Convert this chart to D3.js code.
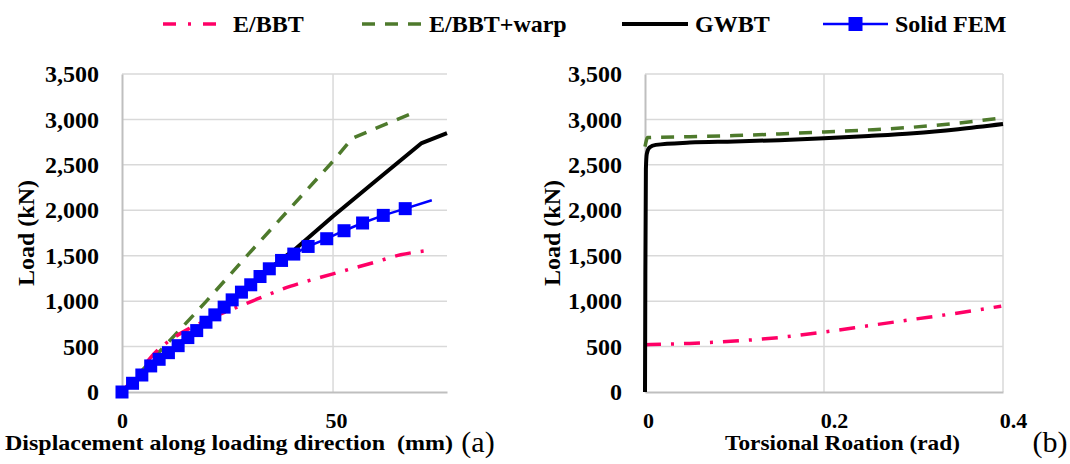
<!DOCTYPE html>
<html lang="en">
  <head>
    <meta charset="UTF-8" />
    <title>Load curves</title>
    <style>
      body { margin: 0; background: #fff; }
      svg { display: block; }
    </style>
  </head>
  <body>
    <svg width="1070" height="464"></svg>

    <script src="https://d3js.org/d3.v7.min.js"></script>
    <script>
      // ---- data: (a) load vs displacement (mm, kN)
      const dispEbbt = [0, 4, 8, 12, 16, 20, 25, 30, 40, 50, 60, 66, 72];
      const loadEbbt = [0, 220, 440, 590, 700, 790, 890, 985, 1165, 1300, 1430, 1510, 1555];

      const dispWarp = [0, 10, 20, 30, 40, 50, 54.5, 60, 65, 70];
      const loadWarp = [0, 500, 1000, 1520, 2030, 2540, 2790, 2900, 2995, 3090];

      const dispGwbt = [0, 10, 20, 30, 38, 41, 50, 60, 71, 77];
      const loadGwbt = [0, 400, 770, 1170, 1470, 1570, 1935, 2320, 2740, 2850];

      const dispFem = [0, 2.5, 4.7, 6.8, 8.8, 11, 13.3, 15.6, 17.7, 19.9, 22, 24.2, 26.1,
        28.3, 30.5, 32.7, 34.9, 37.8, 40.7, 44.1, 48.5, 52.6, 57, 61.9, 67.1, 73.4];
      const loadFem = [0, 96, 187, 287, 360, 433, 510, 599, 676, 768, 849, 934, 1014,
        1099, 1180, 1271, 1356, 1448, 1518, 1602, 1687, 1775, 1860, 1944, 2018, 2110];

      // ---- data: (b) load vs torsional rotation (rad, kN)
      const rotEbbt = [0, 0.05, 0.1, 0.15, 0.2, 0.25, 0.3, 0.35, 0.398];
      const torEbbt = [520, 535, 560, 600, 660, 730, 800, 870, 945];

      const rotWarp = [0, 0.003, 0.05, 0.1, 0.15, 0.2, 0.25, 0.3, 0.35, 0.398];
      const torWarp = [2700, 2800, 2810, 2822, 2840, 2862, 2885, 2915, 2960, 3015];

      const rotGwbt = [0, 0.0004, 0.001, 0.002, 0.005, 0.012, 0.05, 0.1, 0.15, 0.2, 0.25, 0.3, 0.35, 0.4];
      const torGwbt = [0, 1300, 2450, 2620, 2690, 2720, 2745, 2757, 2772, 2793, 2818, 2848, 2893, 2950];

      const loadTicks = [0, 500, 1000, 1500, 2000, 2500, 3000, 3500];
      const dispTicks = [0, 50];
      const rotTicks = [0, 0.2, 0.4];

      const seriesNames = ["E/BBT", "E/BBT+warp", "GWBT", "Solid FEM"];

      // ---- styles
      const styles = {
        "E/BBT": { color: "#ff0066", width: 3.5, dash: "16,10,3,10" },
        "E/BBT+warp": { color: "#4e7a2c", width: 3.5, dash: "13,10" },
        GWBT: { color: "#000000", width: 4, dash: null },
        "Solid FEM": { color: "#0000ff", width: 2.5, dash: null },
      };

      const svg = d3.select("svg");
      const plotTop = 74, plotBottom = 392;

      const yScale = d3.scaleLinear().domain([0, 3500]).range([plotBottom, plotTop]);

      function drawPanel(xScale, xTicks, xFormat, gridX) {
        const g = svg.append("g");
        const left = xScale.range()[0], right = xScale.range()[1];

        // horizontal grid
        g.append("g")
          .selectAll("line")
          .data(loadTicks.slice(1))
          .join("line")
          .attr("x1", left).attr("x2", right)
          .attr("y1", (d) => yScale(d)).attr("y2", (d) => yScale(d))
          .attr("stroke", "#d9d9d9").attr("stroke-width", 1.5);

        // vertical grid
        g.append("g")
          .selectAll("line")
          .data(gridX)
          .join("line")
          .attr("x1", (d) => xScale(d)).attr("x2", (d) => xScale(d))
          .attr("y1", plotTop).attr("y2", plotBottom)
          .attr("stroke", "#d9d9d9").attr("stroke-width", 1.5);

        // axes
        const yAxis = g.append("g")
          .attr("transform", `translate(${left},0)`)
          .call(d3.axisLeft(yScale).tickValues(loadTicks).tickFormat(d3.format(",")).tickSize(0).tickPadding(23));
        yAxis.select(".domain").attr("stroke", "#bfbfbf").attr("stroke-width", 2);
        yAxis.selectAll(".tick text").style("font-size", "24px");

        const xAxis = g.append("g")
          .attr("transform", `translate(0,${plotBottom})`)
          .call(d3.axisBottom(xScale).tickValues(xTicks).tickFormat(xFormat).tickSize(0).tickPadding(20));
        xAxis.select(".domain").attr("stroke", "#bfbfbf").attr("stroke-width", 2);
        xAxis.selectAll(".tick text").style("font-size", "22px");

        return { g, xAxis };
      }

      function drawSeries(g, xScale, xs, ys, name, curve) {
        const s = styles[name];
        const pts = d3.zip(xs, ys);
        const line = d3.line()
          .x((d) => xScale(d[0]))
          .y((d) => yScale(d[1]))
          .curve(curve);
        g.append("path")
          .datum(pts)
          .attr("d", line)
          .attr("fill", "none")
          .attr("stroke", s.color)
          .attr("stroke-width", s.width)
          .attr("stroke-dasharray", s.dash)
          .attr("stroke-linejoin", "round");
        return pts;
      }

      // ---- panel (a)
      const xA = d3.scaleLinear().domain([0, 77]).range([122, 447]);
      const pa = drawPanel(xA, dispTicks, d3.format("d"), [50]);
      pa.xAxis.selectAll(".tick text").attr("dx", (d) => (d ? 3 : 0));
      drawSeries(pa.g, xA, dispWarp, loadWarp, "E/BBT+warp", d3.curveLinear);
      drawSeries(pa.g, xA, dispEbbt, loadEbbt, "E/BBT", d3.curveMonotoneX);
      drawSeries(pa.g, xA, dispGwbt, loadGwbt, "GWBT", d3.curveLinear);
      const femPts = drawSeries(pa.g, xA, dispFem, loadFem, "Solid FEM", d3.curveLinear);
      pa.g.append("g")
        .selectAll("rect")
        .data(femPts.slice(0, -1))
        .join("rect")
        .attr("x", (d) => xA(d[0]) - 6.5)
        .attr("y", (d) => yScale(d[1]) - 6.5)
        .attr("width", 13).attr("height", 13)
        .attr("fill", "#0000ff");

      // ---- panel (b)
      const xB = d3.scaleLinear().domain([0, 0.4]).range([645, 1003]);
      const pb = drawPanel(xB, rotTicks, (d) => String(d), [0.2, 0.4]);
      pb.xAxis.selectAll(".tick text").attr("dx", (d) => (d ? 10 : 3));
      drawSeries(pb.g, xB, rotEbbt, torEbbt, "E/BBT", d3.curveMonotoneX);
      drawSeries(pb.g, xB, rotWarp, torWarp, "E/BBT+warp", d3.curveMonotoneX);
      drawSeries(pb.g, xB, rotGwbt, torGwbt, "GWBT", d3.curveMonotoneX);

      // ---- axis titles
      const midY = (plotTop + plotBottom) / 2;
      svg.append("text")
        .attr("transform", `translate(34,${midY}) rotate(-90)`)
        .attr("text-anchor", "middle").style("font-size", "24px")
        .text("Load (kN)");
      svg.append("text")
        .attr("transform", `translate(560,${midY}) rotate(-90)`)
        .attr("text-anchor", "middle").style("font-size", "24px")
        .text("Load (kN)");

      svg.append("text")
        .attr("x", 5).attr("y", 450).style("font-size", "21px")
        .attr("textLength", 448).attr("lengthAdjust", "spacingAndGlyphs")
        .style("white-space", "pre")
        .text("Displacement along loading direction  (mm)");
      svg.append("text")
        .attr("x", 725).attr("y", 450).style("font-size", "21px")
        .attr("textLength", 235).attr("lengthAdjust", "spacingAndGlyphs")
        .text("Torsional Roation (rad)");

      svg.append("text")
        .attr("class", "tag")
        .attr("x", 478).attr("y", 452).attr("text-anchor", "middle")
        .style("font-size", "30px")
        .text("(a)");
      svg.append("text")
        .attr("class", "tag")
        .attr("x", 1050).attr("y", 452).attr("text-anchor", "middle")
        .style("font-size", "30px")
        .text("(b)");

      // ---- legend
      const legendX = [163, 362, 622, 823];
      const legendLen = [57, 65, 66, 65];
      const legendTextX = [233, 429, 695, 895];
      const legend = svg.append("g")
        .selectAll("g")
        .data(seriesNames)
        .join("g");
      legend.append("line")
        .attr("x1", (d, i) => legendX[i])
        .attr("x2", (d, i) => legendX[i] + legendLen[i])
        .attr("y1", 24).attr("y2", 24)
        .attr("stroke", (d) => styles[d].color)
        .attr("stroke-width", (d) => styles[d].width)
        .attr("stroke-dasharray", (d) => (d === "E/BBT" ? "13,12,3,12" : styles[d].dash));
      legend.filter((d) => d === "Solid FEM")
        .append("rect")
        .attr("x", legendX[3] + legendLen[3] / 2 - 7)
        .attr("y", 24 - 7).attr("width", 14).attr("height", 14)
        .attr("fill", "#0000ff");
      legend.append("text")
        .attr("x", (d, i) => legendTextX[i])
        .attr("y", 32).style("font-size", "24px")
        .text((d) => d);

      // serif font for every label
      svg.selectAll("text")
        .style("font-family", '"Liberation Serif"')
        .style("font-weight", "bold")
        .attr("fill", "#000");
      svg.selectAll("text.tag").style("font-weight", "normal");
    </script>
  </body>
</html>
